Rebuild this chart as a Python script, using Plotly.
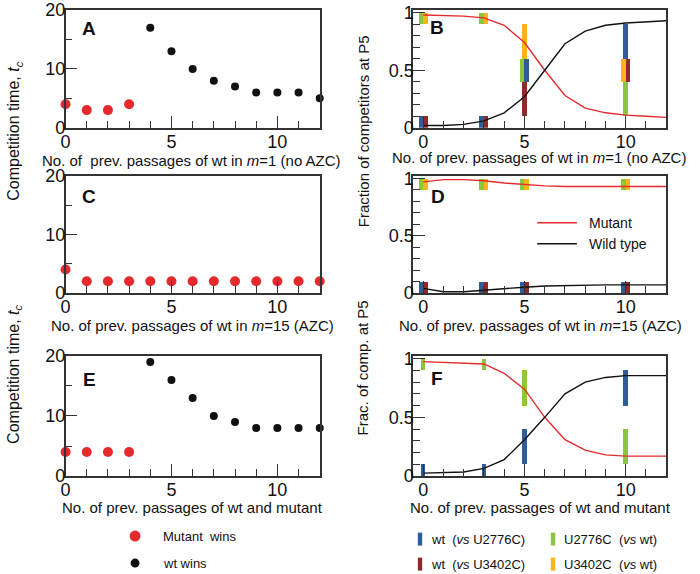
import plotly.graph_objects as go

W, H = 700, 583
FONT = "Liberation Sans, Arial, Helvetica, sans-serif"

# ---------------- data ----------------
passages = [0, 1, 2, 3, 4, 5, 6, 7, 8, 9, 10, 11, 12]

# competition time panels (A, C, E)
A_mut_x = [0, 1, 2, 3]
A_mut_y = [4, 3, 3, 4]
A_wt_x = [4, 5, 6, 7, 8, 9, 10, 11, 12]
A_wt_y = [17, 13, 10, 8, 7, 6, 6, 6, 5]

C_mut_x = [0, 1, 2, 3, 4, 5, 6, 7, 8, 9, 10, 11, 12]
C_mut_y = [4, 2, 2, 2, 2, 2, 2, 2, 2, 2, 2, 2, 2]
C_wt_x = []
C_wt_y = []

E_mut_x = [0, 1, 2, 3]
E_mut_y = [4, 4, 4, 4]
E_wt_x = [4, 5, 6, 7, 8, 9, 10, 11, 12]
E_wt_y = [19, 16, 13, 10, 9, 8, 8, 8, 8]

# fraction panels (B, D, F) model curves
B_mutant = [0.98, 0.975, 0.97, 0.955, 0.89, 0.74, 0.5, 0.28, 0.17, 0.13, 0.11, 0.10, 0.09]
B_wild = [0.02, 0.02, 0.03, 0.06, 0.13, 0.27, 0.5, 0.73, 0.84, 0.89, 0.91, 0.92, 0.93]
D_mutant = [0.97, 0.99, 0.99, 0.98, 0.96, 0.945, 0.935, 0.93, 0.93, 0.93, 0.93, 0.93, 0.93]
D_wild = [0.04, 0.01, 0.01, 0.025, 0.04, 0.05, 0.06, 0.065, 0.07, 0.07, 0.07, 0.07, 0.07]
F_mutant = [0.975, 0.97, 0.965, 0.955, 0.875, 0.74, 0.5, 0.31, 0.22, 0.18, 0.17, 0.17, 0.17]
F_wild = [0.025, 0.03, 0.035, 0.065, 0.14, 0.31, 0.5, 0.7, 0.8, 0.84, 0.855, 0.855, 0.855]

# measured fraction ranges at P5
sample_x = [0, 3, 5, 10]
series_names = ["U2776C (vs wt)", "U3402C (vs wt)", "wt (vs U2776C)", "wt (vs U3402C)"]
B_ranges = {
    "U2776C (vs wt)": ([0.9, 0.9, 0.4, 0.1], [1.0, 1.0, 0.6, 0.4]),
    "U3402C (vs wt)": ([0.9, 0.9, 0.6, 0.4], [1.0, 1.0, 0.9, 0.6]),
    "wt (vs U2776C)": ([0.0, 0.0, 0.4, 0.6], [0.1, 0.1, 0.6, 0.9]),
    "wt (vs U3402C)": ([0.0, 0.0, 0.1, 0.4], [0.1, 0.1, 0.4, 0.6]),
}
D_ranges = {
    "U2776C (vs wt)": ([0.9, 0.9, 0.9, 0.9], [1.0, 1.0, 1.0, 1.0]),
    "U3402C (vs wt)": ([0.9, 0.9, 0.9, 0.9], [1.0, 1.0, 1.0, 1.0]),
    "wt (vs U2776C)": ([0.0, 0.0, 0.0, 0.0], [0.1, 0.1, 0.1, 0.1]),
    "wt (vs U3402C)": ([0.0, 0.0, 0.0, 0.0], [0.1, 0.1, 0.1, 0.1]),
}
F_ranges = {
    "U2776C (vs wt)": ([0.9, 0.9, 0.6, 0.1], [1.0, 1.0, 0.9, 0.4]),
    "wt (vs U2776C)": ([0.0, 0.0, 0.1, 0.6], [0.1, 0.1, 0.4, 0.9]),
}

# ---------------- styles ----------------
RED = "#e52a2d"
BLACK = "#111111"
SERIES_COLORS = {
    "wt (vs U2776C)": "#2e5d99",
    "wt (vs U3402C)": "#8e2b2a",
    "U2776C (vs wt)": "#8cc63f",
    "U3402C (vs wt)": "#f8b418",
}
BAR_W = 0.22

# compensation for how the page ends up in the picture
SX, OX = 1.0, 2.0
SY, OY = 0.965, 9.3


def clamp(v):
    return max(0.0, min(1.0, v))


def px_x(p):
    return ((p - OX) / SX) / W


def px_y(p):
    return 1 - ((p - OY) / SY) / H


# panel pixel boxes in target picture coords: (left, right, top, bottom)
boxes = {
    1: (63, 319, 9, 127),
    2: (413, 668, 9, 127),
    3: (63, 319, 175, 292),
    4: (413, 668, 175, 292),
    5: (63, 319, 355, 475),
    6: (413, 668, 355, 475),
}

fig = go.Figure()


def ax(n):
    return ("x" if n == 1 else f"x{n}"), ("y" if n == 1 else f"y{n}")


def add_time_panel(n, mx, my, wx, wy):
    xa, ya = ax(n)
    fig.add_trace(go.Scatter(x=mx, y=my, mode="markers", xaxis=xa, yaxis=ya,
                             marker=dict(color=RED, size=10), cliponaxis=False,
                             showlegend=False, hoverinfo="skip"))
    if wx:
        fig.add_trace(go.Scatter(x=wx, y=wy, mode="markers", xaxis=xa, yaxis=ya,
                                 marker=dict(color=BLACK, size=8), cliponaxis=False,
                                 showlegend=False, hoverinfo="skip"))


def add_frac_panel(n, mutant, wild, ranges):
    xa, ya = ax(n)
    order = [s for s in series_names if s in ranges]
    for i, xv in enumerate(sample_x):
        groups = {}
        for s in order:
            lo, hi = ranges[s][0][i], ranges[s][1][i]
            groups.setdefault((lo, hi), []).append(s)
        for (lo, hi), members in groups.items():
            k = len(members)
            for j, s in enumerate(members):
                off = (j - (k - 1) / 2) * BAR_W
                fig.add_trace(go.Bar(x=[xv + off], y=[hi - lo], base=[lo], width=BAR_W,
                                     xaxis=xa, yaxis=ya,
                                     marker=dict(color=SERIES_COLORS[s], line=dict(width=0)),
                                     showlegend=False, hoverinfo="skip"))
    fig.add_trace(go.Scatter(x=passages, y=mutant, mode="lines", xaxis=xa, yaxis=ya,
                             line=dict(color=RED, width=1.4), showlegend=False, hoverinfo="skip"))
    fig.add_trace(go.Scatter(x=passages, y=wild, mode="lines", xaxis=xa, yaxis=ya,
                             line=dict(color=BLACK, width=1.4), showlegend=False, hoverinfo="skip"))


add_time_panel(1, A_mut_x, A_mut_y, A_wt_x, A_wt_y)
add_frac_panel(2, B_mutant, B_wild, B_ranges)
add_time_panel(3, C_mut_x, C_mut_y, C_wt_x, C_wt_y)
add_frac_panel(4, D_mutant, D_wild, D_ranges)
add_time_panel(5, E_mut_x, E_mut_y, E_wt_x, E_wt_y)
add_frac_panel(6, F_mutant, F_wild, F_ranges)

layout = dict(
    width=W, height=H, margin=dict(l=0, r=0, t=0, b=0),
    paper_bgcolor="white", plot_bgcolor="white",
    barmode="overlay", bargap=0,
    font=dict(family=FONT, color="#111"),
    showlegend=False,
)

AXLINE = dict(showline=True, linecolor="#333", linewidth=1.5, mirror=True,
              showgrid=False, zeroline=False, ticks="inside", tickcolor="#333",
              tickwidth=1.2, tickfont=dict(size=18, family=FONT, color="#111"))

for n, (l, r, t, b) in boxes.items():
    xk = "xaxis" if n == 1 else f"xaxis{n}"
    yk = "yaxis" if n == 1 else f"yaxis{n}"
    xa, ya = ax(n)
    time_panel = n % 2 == 1
    layout[xk] = dict(AXLINE, domain=[clamp(px_x(l)), clamp(px_x(r))], anchor=ya,
                      range=[0, 12] if time_panel else [-0.5, 12],
                      tick0=0, dtick=5, ticklen=12, ticklabelstandoff=-3,
                      minor=dict(dtick=1, tick0=0, ticks="inside", ticklen=7,
                                 tickcolor="#333", tickwidth=1.2, showgrid=False))
    ydom = [clamp(px_y(b)), clamp(px_y(t))]
    if time_panel:
        layout[yk] = dict(AXLINE, domain=ydom, anchor=xa,
                          range=[0, 20], tick0=0, dtick=10, ticklen=12, ticklabelstandoff=-5,
                          minor=dict(dtick=5, tick0=0, ticks="inside", ticklen=7,
                                     tickcolor="#333", tickwidth=1.2, showgrid=False))
    else:
        layout[yk] = dict(AXLINE, domain=ydom, anchor=xa,
                          range=[0, 1.023], tick0=0, dtick=0.5, ticklen=12, ticklabelstandoff=-6,
                          minor=dict(dtick=0.1, tick0=0, ticks="inside", ticklen=7,
                                     tickcolor="#333", tickwidth=1.2, showgrid=False))

fig.update_layout(**layout)

ann = []


def text(x, y, s, size, anchor="center", bold=False, angle=0):
    ann.append(dict(x=px_x(x), y=px_y(y), xref="paper", yref="paper",
                    text=(f"<b>{s}</b>" if bold else s),
                    showarrow=False, xanchor=anchor, yanchor="middle", textangle=angle,
                    font=dict(size=size, family=FONT, color="#111")))


# panel letters
for lab, (x, y) in {"A": (87, 28), "B": (437, 27), "C": (87, 196), "D": (438, 196),
                    "E": (87, 379), "F": (437, 378)}.items():
    text(x, y, lab, 19, bold=True)

# x titles
text(190, 160, "No. of  prev. passages of wt in <i>m</i>=1 (no AZC)", 15)
text(540, 157, "No. of prev. passages of wt in <i>m</i>=1 (no AZC)", 15)
text(191, 325, "No. of prev. passages of wt in <i>m</i>=15 (AZC)", 15)
text(541, 325, "No. of prev. passages of wt in <i>m</i>=15 (AZC)", 15)
text(191, 506, "No. of prev. passages of wt and mutant", 15)
text(541, 506, "No. of prev. passages of wt and mutant", 15)

# y titles
text(12, 130, "Competition time, <i>t</i><sub><i>c</i></sub>", 16, angle=-90)
text(12, 373, "Competition time, <i>t</i><sub><i>c</i></sub>", 16, angle=-90)
text(363, 130, "Fraction of competitors at P5", 15, angle=-90)
text(363, 367, "Frac. of comp. at P5", 15, angle=-90)

# D legend (model curves)
shapes = []
shapes.append(dict(type="line", xref="paper", yref="paper", x0=px_x(538), x1=px_x(578),
                   y0=px_y(222), y1=px_y(222), line=dict(color=RED, width=1.5)))
shapes.append(dict(type="line", xref="paper", yref="paper", x0=px_x(538), x1=px_x(578),
                   y0=px_y(243), y1=px_y(243), line=dict(color=BLACK, width=1.5)))
text(588, 222, "Mutant", 14, anchor="left")
text(588, 243, "Wild type", 14, anchor="left")

# bottom-left legend (dots)
for (cx, cy, r, col, lab) in [(133, 535, 5.5, RED, "Mutant  wins"), (133, 562, 4.5, BLACK, "wt wins")]:
    shapes.append(dict(type="circle", xref="paper", yref="paper", x0=px_x(cx - r), x1=px_x(cx + r),
                       y0=px_y(cy + r), y1=px_y(cy - r), fillcolor=col, line=dict(width=0)))
    text(159, cy, lab, 13, anchor="left")

# bottom-right legend (range bars)
for (sx, sy, s, lab) in [(420, 538, "wt (vs U2776C)", "wt  (<i>vs</i> U2776C)"),
                         (420, 563, "wt (vs U3402C)", "wt  (<i>vs</i> U3402C)"),
                         (554, 538, "U2776C (vs wt)", "U2776C  (<i>vs</i> wt)"),
                         (554, 563, "U3402C (vs wt)", "U3402C  (<i>vs</i> wt)")]:
    shapes.append(dict(type="rect", xref="paper", yref="paper", x0=px_x(sx - 2.2), x1=px_x(sx + 2.2),
                       y0=px_y(sy + 6.5), y1=px_y(sy - 6.5), fillcolor=SERIES_COLORS[s], line=dict(width=0)))
    text(sx + 9, sy, lab, 13, anchor="left")

fig.update_layout(annotations=ann, shapes=shapes)

PAGE_FIX = ("document.documentElement.style.margin='0';"
            "document.body.style.margin='0';document.body.style.padding='0';"
            "document.body.style.overflow='hidden';")
fig.write_html("out.html", post_script=PAGE_FIX, config={"displayModeBar": False})
